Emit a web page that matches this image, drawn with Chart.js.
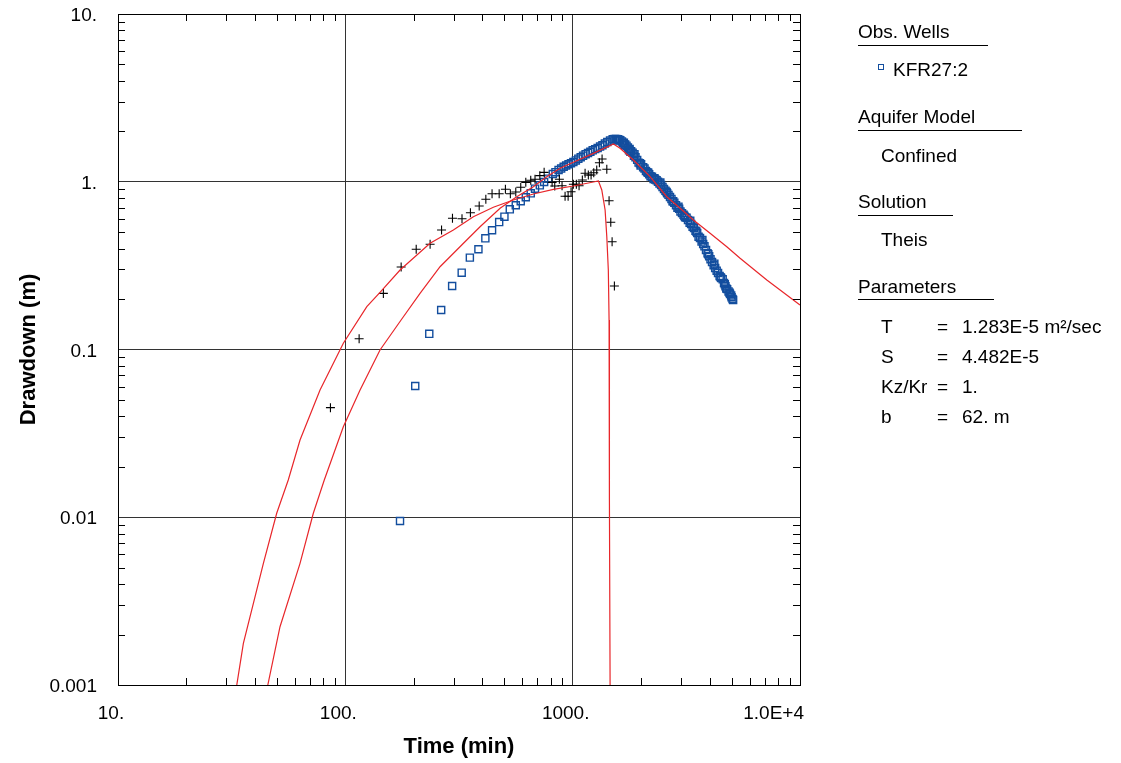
<!DOCTYPE html>
<html>
<head>
<meta charset="utf-8">
<title>Drawdown vs time</title>
<script src="https://cdn.jsdelivr.net/npm/chart.js@4.4.1/dist/chart.umd.min.js"></script>
<style>
  html, body { margin: 0; padding: 0; background: #fff; }
  #wrap { position: relative; width: 1121px; height: 763px; overflow: hidden; }
  #chart { display: block; }
  .lg { position: absolute; font: 19px "Liberation Sans", Arial, sans-serif; line-height: 19px; color: #000; white-space: nowrap; }
  .ul { position: absolute; left: 858px; height: 1px; background: #000; }
  #mk { position: absolute; left: 878px; top: 64px; width: 4px; height: 4px; border: 1px solid #134e9e; }
</style>
</head>
<body>
<div id="wrap">
  <canvas id="chart" width="1121" height="763"></canvas>

  <div class="lg" style="left:858px;top:22px">Obs. Wells</div>
  <div class="ul" style="top:45px;width:130px"></div>
  <div id="mk"></div>
  <div class="lg" style="left:893px;top:60px">KFR27:2</div>

  <div class="lg" style="left:858px;top:107px">Aquifer Model</div>
  <div class="ul" style="top:130px;width:164px"></div>
  <div class="lg" style="left:881px;top:146px">Confined</div>

  <div class="lg" style="left:858px;top:192px">Solution</div>
  <div class="ul" style="top:215px;width:95px"></div>
  <div class="lg" style="left:881px;top:230px">Theis</div>

  <div class="lg" style="left:858px;top:277px">Parameters</div>
  <div class="ul" style="top:299px;width:136px"></div>
  <div class="lg" style="left:881px;top:317px">T</div>
  <div class="lg" style="left:937px;top:317px">=</div>
  <div class="lg" style="left:962px;top:317px">1.283E-5 m²/sec</div>
  <div class="lg" style="left:881px;top:347px">S</div>
  <div class="lg" style="left:937px;top:347px">=</div>
  <div class="lg" style="left:962px;top:347px">4.482E-5</div>
  <div class="lg" style="left:881px;top:377px">Kz/Kr</div>
  <div class="lg" style="left:937px;top:377px">=</div>
  <div class="lg" style="left:962px;top:377px">1.</div>
  <div class="lg" style="left:881px;top:407px">b</div>
  <div class="lg" style="left:937px;top:407px">=</div>
  <div class="lg" style="left:962px;top:407px">62. m</div>
</div>

<script>
// observed drawdown, well KFR27:2 (blue squares)
const obsTime = [174, 203, 234, 264, 295, 325, 353, 385, 413, 442,
  475, 501, 529, 562, 591, 622, 654, 683, 717, 749,
  781, 818, 840, 867, 890, 913, 936, 959, 983, 1007,
  1033, 1059, 1085, 1111, 1140, 1168, 1196, 1225, 1256, 1288,
  1320, 1352, 1386, 1420, 1460,
  1500, 1530, 1555, 1570, 1580, 1600, 1620, 1648, 1665, 1680,
  1690, 1702, 1725, 1750, 1770, 1780, 1795, 1808, 1835, 1860,
  1870, 1890, 1922, 1950, 1977, 1990, 2000, 2042, 2070, 2101,
  2130, 2150, 2170, 2200, 2233, 2270, 2290, 2306, 2340, 2373,
  2410, 2430, 2450, 2485, 2522, 2560, 2590, 2605, 2640, 2680,
  2720, 2750, 2768, 2800, 2848, 2890, 2920, 2940, 2980, 3027,
  3075, 3100, 3125, 3170, 3216, 3270, 3290, 3320, 3370, 3418,
  3470, 3500, 3530, 3580, 3632, 3690, 3720, 3750, 3800, 3860,
  3920, 3950, 3985, 4040, 4102, 4170, 4200, 4235, 4300, 4360,
  4430, 4470, 4500, 4570, 4633, 4670, 4700, 4740, 4782, 4850,
  4900, 4923, 4980, 5000, 5050, 5080];
const obsDrawdown = [0.0095, 0.0606, 0.124, 0.172, 0.239, 0.287, 0.353, 0.396, 0.460, 0.514,
  0.575, 0.619, 0.685, 0.724, 0.765, 0.808, 0.853, 0.909, 0.952, 0.997,
  1.043, 1.112, 1.14, 1.175, 1.20, 1.229, 1.25, 1.271, 1.29, 1.312,
  1.34, 1.373, 1.40, 1.431, 1.46, 1.485, 1.51, 1.54, 1.565, 1.59,
  1.62, 1.65, 1.69, 1.726, 1.76,
  1.791, 1.80, 1.80, 1.76, 1.79, 1.78, 1.77, 1.74, 1.70, 1.71,
  1.66, 1.67, 1.64, 1.60, 1.54, 1.57, 1.51, 1.52, 1.49, 1.43,
  1.46, 1.40, 1.35, 1.30, 1.29, 1.25, 1.27, 1.22, 1.20, 1.16,
  1.14, 1.13, 1.11, 1.08, 1.07, 1.04, 1.05, 1.03, 1.02, 1.00,
  0.975, 0.99, 0.955, 0.93, 0.905, 0.885, 0.87, 0.855, 0.835, 0.81,
  0.79, 0.765, 0.765, 0.75, 0.725, 0.70, 0.71, 0.69, 0.665, 0.65,
  0.635, 0.625, 0.615, 0.61, 0.592, 0.57, 0.585, 0.56, 0.54, 0.53,
  0.51, 0.505, 0.495, 0.47, 0.462, 0.44, 0.45, 0.425, 0.412, 0.392,
  0.375, 0.37, 0.36, 0.345, 0.332, 0.318, 0.325, 0.306, 0.295, 0.286,
  0.274, 0.27, 0.267, 0.262, 0.249, 0.245, 0.238, 0.231, 0.229, 0.222,
  0.218, 0.214, 0.21, 0.205, 0.2, 0.197];

// second record (black crosses)
const crossTime = [86, 115, 147, 176, 205, 236, 265, 296, 326, 355, 388, 415, 442, 475, 506, 532, 562, 591, 622, 654,
  683, 717, 749, 812, 834, 874, 898, 926, 955, 984, 1007, 1038, 1067, 1103, 1134, 1172, 1205, 1238, 1276, 1311,
  1347, 1413, 1446, 1471, 1491, 1526];
const crossDrawdown = [0.045, 0.116, 0.216, 0.31, 0.396, 0.424, 0.516, 0.606, 0.602, 0.654, 0.717, 0.786, 0.849, 0.849, 0.902, 0.849, 0.869, 0.927, 0.992, 1.02,
  1.034, 1.087, 1.138, 0.992, 0.943, 1.034, 0.947, 0.819, 0.819, 0.872, 0.966, 0.966, 0.947, 1.024, 1.123, 1.097, 1.097, 1.132, 1.175, 1.299,
  1.367, 1.186, 0.771, 0.573, 0.439, 0.239];

// Theis type curves (red)
const curveATime = [33.3, 35.6, 39.4, 43.6, 49.9, 56.1, 63.2, 77.4, 98.0, 124.3, 142.1, 174.1, 235.9, 298.7, 365.7, 447.8,
  548.4, 671.6, 822.5, 1007, 1233, 1298, 1343, 1389, 1413, 1435, 1446, 1451, 1461];
const curveADrawdown = [0.001, 0.00177, 0.00307, 0.00531, 0.01056, 0.01667, 0.02886, 0.05736, 0.1089, 0.1799, 0.2193, 0.2977, 0.4296, 0.5159, 0.6191, 0.7041,
  0.7782, 0.8452, 0.9016, 0.9434, 0.9966, 1.010, 0.8929, 0.6786, 0.4702, 0.2977, 0.1499, 0.01267, 0.001];

const curveBTime = [45.6, 51.6, 63.2, 72.3, 80.8, 98.0, 116.1, 142.1, 175.9, 213.1, 261.0, 325.1, 391.4, 479.4, 567.6, 671.6,
  769.2, 880.4, 1007, 1233, 1511, 1616, 1850, 2190, 2594, 2969, 3396, 4022, 4764, 5451, 7145, 10000];
const curveBDrawdown = [0.001, 0.002226, 0.00531, 0.01056, 0.01667, 0.03466, 0.05736, 0.0993, 0.1499, 0.2163, 0.3115, 0.4198, 0.5395, 0.6945, 0.8143, 0.9343,
  1.072, 1.203, 1.306, 1.477, 1.679, 1.583, 1.348, 1.072, 0.8143, 0.6945, 0.5916, 0.4929, 0.4101, 0.3497, 0.2596, 0.1842];

// axes
const xTickValues = [10, 100, 1000, 10000];
const xTickLabels = ['10.', '100.', '1000.', '1.0E+4'];
const yTickValues = [10, 1, 0.1, 0.01, 0.001];
const yTickLabels = ['10.', '1.', '0.1', '0.01', '0.001'];
const minorSteps = [2, 3, 4, 5, 6, 7, 8, 9];

const FONT = '"Liberation Sans", Arial, sans-serif';

function pts(xs, ys){ return xs.map((t,i)=>({ x: t, y: ys[i] })); }

// frame, inward minor ticks, tick labels and axis titles
const axesDecor = {
  id: 'axesDecor',
  afterDraw(chart){
    const { ctx, chartArea: a, scales } = chart;
    const x = scales.x, y = scales.y;
    ctx.save();
    ctx.strokeStyle = '#000';
    ctx.lineWidth = 1;
    ctx.beginPath();
    const tl = 7;
    for(const d of xTickValues.slice(0, -1)){
      for(const m of minorSteps){
        const px = Math.round(x.getPixelForValue(d*m)) + 0.5;
        ctx.moveTo(px, a.bottom); ctx.lineTo(px, a.bottom - tl);
        ctx.moveTo(px, a.top); ctx.lineTo(px, a.top + tl);
      }
    }
    for(const d of yTickValues.slice(1)){
      for(const m of minorSteps){
        const py = Math.round(y.getPixelForValue(d*m)) + 0.5;
        ctx.moveTo(a.left, py); ctx.lineTo(a.left + tl, py);
        ctx.moveTo(a.right, py); ctx.lineTo(a.right - tl, py);
      }
    }
    ctx.stroke();
    ctx.strokeRect(Math.round(a.left) + 0.5, Math.round(a.top) + 0.5, Math.round(a.right - a.left), Math.round(a.bottom - a.top));

    ctx.fillStyle = '#000';
    ctx.font = '19px ' + FONT;
    ctx.textBaseline = 'middle';
    ctx.textAlign = 'right';
    yTickValues.forEach((v,i)=>{
      ctx.fillText(yTickLabels[i], a.left - 21, y.getPixelForValue(v) + 2);
    });
    xTickValues.forEach((v,i)=>{
      const px = x.getPixelForValue(v);
      if(i === xTickValues.length - 1){
        ctx.textAlign = 'right';
        ctx.fillText(xTickLabels[i], px + 4, a.bottom + 29);
      } else {
        ctx.textAlign = 'center';
        ctx.fillText(xTickLabels[i], px - 7, a.bottom + 29);
      }
    });

    ctx.font = 'bold 22px ' + FONT;
    ctx.textAlign = 'center';
    ctx.fillText('Time (min)', (a.left + a.right) / 2, a.bottom + 62);
    ctx.translate(29, (a.top + a.bottom) / 2);
    ctx.rotate(-Math.PI / 2);
    ctx.fillText('Drawdown (m)', 0, 0);
    ctx.restore();
  }
};

const gridOpts = { color: '#333', lineWidth: 1, drawTicks: false };

new Chart(document.getElementById('chart'), {
  type: 'scatter',
  data: {
    datasets: [
      { label: 'curve A', data: pts(curveATime, curveADrawdown), showLine: true, borderColor: '#e8262a', borderWidth: 1.2, pointRadius: 0, tension: 0 },
      { label: 'curve B', data: pts(curveBTime, curveBDrawdown), showLine: true, borderColor: '#e8262a', borderWidth: 1.2, pointRadius: 0, tension: 0 },
      { label: 'crosses', data: pts(crossTime, crossDrawdown), pointStyle: 'cross', pointRadius: 4.5, borderColor: '#000', borderWidth: 1.1 },
      { label: 'KFR27:2', data: pts(obsTime, obsDrawdown), pointStyle: 'rect', pointRadius: 5, borderColor: '#134e9e', backgroundColor: 'rgba(0,0,0,0)', borderWidth: 1.4 }
    ]
  },
  options: {
    responsive: false,
    animation: false,
    events: [],
    layout: { padding: { left: 118, right: 321, top: 14, bottom: 78 } },
    plugins: { legend: { display: false }, tooltip: { enabled: false } },
    scales: {
      x: {
        type: 'logarithmic', min: 10, max: 10000,
        afterBuildTicks: (s)=>{ s.ticks = xTickValues.map(v=>({ value: v })); },
        afterFit: (s)=>{ s.height = 0; },
        ticks: { display: false },
        border: { display: false },
        grid: gridOpts
      },
      y: {
        type: 'logarithmic', min: 0.001, max: 10,
        afterBuildTicks: (s)=>{ s.ticks = yTickValues.map(v=>({ value: v })); },
        afterFit: (s)=>{ s.width = 0; },
        ticks: { display: false },
        border: { display: false },
        grid: gridOpts
      }
    }
  },
  plugins: [axesDecor]
});
</script>
</body>
</html>
